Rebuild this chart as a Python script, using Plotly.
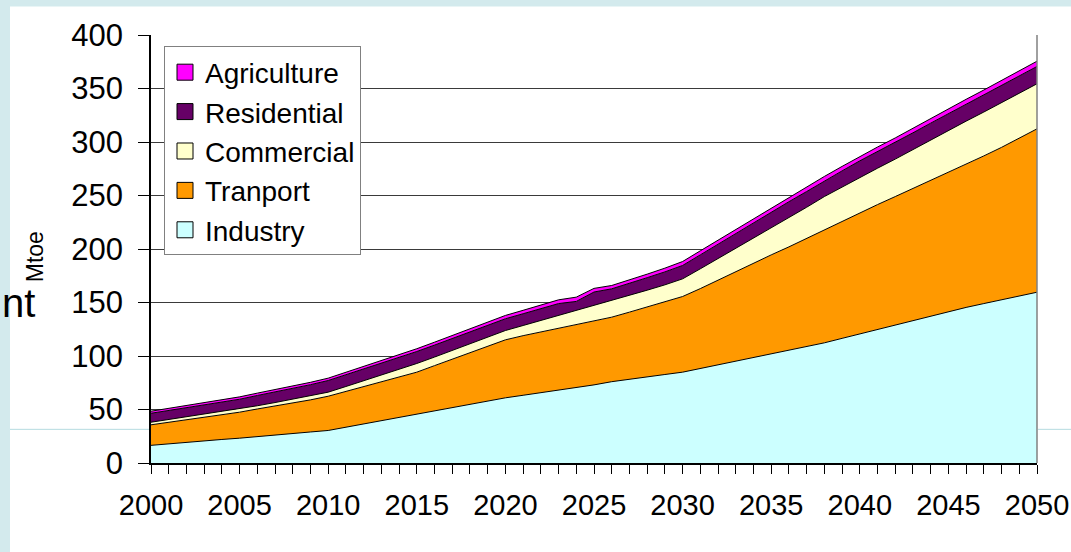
import plotly.graph_objects as go

years = list(range(2000, 2051))

# Upper boundary of each stacked band (Mtoe)
industry_top = [16.5, 18.0, 19.3, 20.5, 22.0, 23.2, 24.8, 26.2, 27.5, 29.0,
                30.4, 33.5, 36.6, 39.7, 42.8, 46.0, 49.0, 52.0, 55.0, 58.0,
                60.9, 63.3, 65.6, 68.0, 70.3, 73.0, 76.0, 78.0, 80.5, 82.7,
                84.9, 88.3, 91.8, 95.3, 99.0, 102.6, 105.8, 109.0, 112.3, 116.5,
                120.7, 125.0, 129.2, 133.5, 137.7, 141.9, 145.4, 149.0, 152.5, 156.0,
                159.6]
transport_top = [35.7, 38.0, 40.5, 42.8, 45.0, 47.5, 50.5, 53.3, 56.0, 59.0,
                 62.4, 67.0, 71.5, 76.0, 80.5, 84.9, 91.0, 97.0, 103.0, 109.0,
                 115.1, 119.0, 122.5, 126.0, 129.2, 133.2, 136.3, 141.0, 146.0, 150.5,
                 155.6, 163.0, 171.0, 179.0, 187.0, 194.5, 202.0, 210.0, 218.0, 226.0,
                 234.0, 241.5, 249.0, 256.5, 264.0, 271.5, 279.0, 287.0, 295.0, 303.5,
                 312.3]
commercial_top = [38.1, 40.6, 43.2, 45.5, 47.8, 50.3, 53.5, 56.5, 59.5, 62.7,
                  66.2, 71.5, 76.8, 82.0, 87.5, 93.0, 99.0, 105.2, 111.3, 117.5,
                  123.8, 128.5, 133.2, 137.8, 142.5, 146.8, 151.9, 156.5, 161.5, 166.5,
                  172.1, 181.5, 191.0, 200.5, 210.0, 219.5, 229.5, 239.0, 249.0, 258.0,
                  267.0, 275.5, 284.0, 293.0, 302.0, 310.7, 319.5, 328.0, 337.0, 345.5,
                  354.4]
residential_top = [46.5, 49.2, 52.0, 54.5, 56.9, 59.6, 63.1, 66.4, 69.7, 73.2,
                   77.1, 82.5, 87.8, 93.1, 98.6, 104.2, 110.2, 116.3, 122.4, 128.5,
                   134.8, 139.5, 144.4, 149.0, 151.0, 159.8, 162.8, 167.8, 173.2, 178.6,
                   184.6, 194.5, 204.5, 214.5, 224.4, 234.2, 244.2, 253.7, 263.7, 273.0,
                   282.4, 291.0, 299.5, 308.6, 317.6, 326.4, 335.3, 343.9, 353.0, 361.6,
                   370.6]
agriculture_top = [48.4, 51.1, 54.0, 56.5, 59.0, 61.8, 65.3, 68.6, 71.9, 75.4,
                   79.3, 84.8, 90.2, 95.6, 101.1, 106.8, 112.9, 119.1, 125.3, 131.5,
                   137.9, 142.7, 147.7, 152.5, 155.0, 163.2, 165.9, 171.0, 176.5, 182.1,
                   188.3, 198.3, 208.3, 218.4, 228.3, 238.2, 248.2, 257.8, 267.8, 277.2,
                   286.6, 295.3, 303.8, 313.0, 322.0, 330.9, 339.9, 348.6, 357.7, 366.4,
                   375.5]

series_names = ["Industry", "Tranport", "Commercial", "Residential", "Agriculture"]
series_tops = [industry_top, transport_top, commercial_top, residential_top, agriculture_top]
colors = ["#CCFFFF", "#FF9900", "#FFFFCC", "#660066", "#FF00FF"]

x_tick_vals = [2000, 2005, 2010, 2015, 2020, 2025, 2030, 2035, 2040, 2045, 2050]
y_tick_vals = [0, 50, 100, 150, 200, 250, 300, 350, 400]

FONT = "Liberation Sans, Arial, sans-serif"

fig = go.Figure()
for i, (name, top, col) in enumerate(zip(series_names, series_tops, colors)):
    fig.add_trace(go.Scatter(
        x=years, y=top, name=name, mode="lines",
        line=dict(color="black", width=1),
        fill="tozeroy" if i == 0 else "tonexty",
        fillcolor=col, showlegend=False, hoverinfo="x+name",
    ))

# legend entries (square swatches), top to bottom
for name, col in reversed(list(zip(series_names, colors))):
    fig.add_trace(go.Scatter(
        x=[None], y=[None], name=name, mode="markers",
        marker=dict(symbol="square", size=16, color=col, line=dict(color="black", width=1)),
        showlegend=True,
    ))

L, R, T, B = 151, 1037, 34.5, 463
PW, PH = R - L, B - T


def px(xp):
    return (xp - L) / PW


def py(yp):
    return (B - yp) / PH


shapes = [
    # white slide area over light blue background
    dict(type="rect", xref="paper", yref="paper", x0=px(10), x1=px(1075), y0=py(556), y1=py(6),
         fillcolor="white", line=dict(width=0), layer="below"),
    # slide decoration line
    dict(type="line", xref="paper", yref="paper", x0=px(10), x1=px(L), y0=py(429.3), y1=py(429.3),
         line=dict(color="#b5dbe0", width=1), layer="below"),
    dict(type="line", xref="paper", yref="paper", x0=px(R + 1), x1=px(1071), y0=py(429.3), y1=py(429.3),
         line=dict(color="#b5dbe0", width=1), layer="below"),
    # right border of plot area
    dict(type="line", xref="paper", yref="paper", x0=1, x1=1, y0=0, y1=1,
         line=dict(color="#808080", width=1.5), layer="above"),
]

annotations = [
    dict(text="nt", xref="paper", yref="paper", x=px(0), y=py(303), xanchor="left", yanchor="middle",
         showarrow=False, font=dict(family=FONT, size=40, color="black")),
    dict(text="Mtoe", xref="paper", yref="paper", x=px(35), y=py(257), xanchor="center", yanchor="middle",
         textangle=-90, showarrow=False, font=dict(family=FONT, size=23, color="black")),
]

fig.update_layout(
    width=1071, height=552,
    margin=dict(l=L, r=1071 - R, t=T, b=552 - B),
    paper_bgcolor="#d3eaed",
    plot_bgcolor="white",
    font=dict(family=FONT, color="black"),
    showlegend=True,
    legend=dict(
        x=px(164), y=py(46), xanchor="left", yanchor="top",
        bgcolor="white", bordercolor="#808080", borderwidth=1,
        font=dict(family=FONT, size=28, color="black"),
        traceorder="normal",
    ),
    shapes=shapes,
    annotations=annotations,
    xaxis=dict(
        range=[2000, 2050], tickvals=x_tick_vals, ticktext=[str(v) for v in x_tick_vals],
        showgrid=False, zeroline=False, automargin=False,
        showline=True, linecolor="black", linewidth=1.5,
        ticks="outside", ticklen=9, tickcolor="black", tickwidth=1,
        minor=dict(dtick=1, ticks="outside", ticklen=9, tickcolor="black", tickwidth=1, showgrid=False),
        tickfont=dict(family=FONT, size=29, color="black"),
        ticklabelstandoff=6,
    ),
    yaxis=dict(
        range=[0, 400], tickvals=y_tick_vals,
        showgrid=True, gridcolor="#3a3a3a", gridwidth=1,
        zeroline=False, automargin=False,
        showline=True, linecolor="black", linewidth=1.5,
        ticks="outside", ticklen=11, tickcolor="black", tickwidth=1,
        tickfont=dict(family=FONT, size=31, color="black"),
        ticklabelstandoff=9,
    ),
)

fig.write_html(
    "out.html",
    config={"displayModeBar": False},
    post_script="document.body.style.margin='0';document.body.style.padding='0';document.body.style.overflow='hidden';",
)
